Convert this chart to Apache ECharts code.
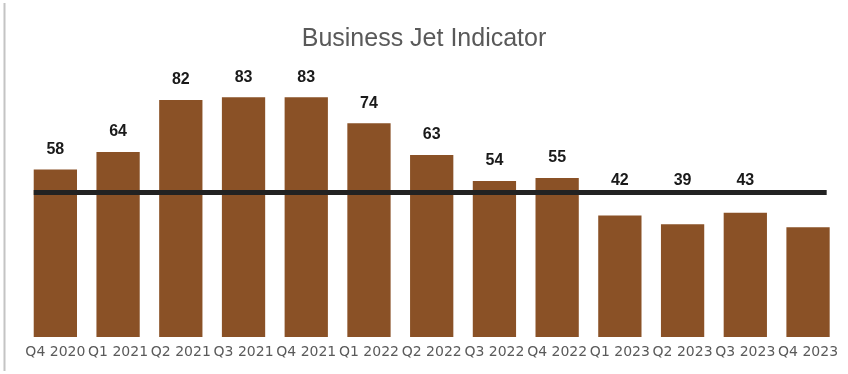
<!DOCTYPE html>
<html>
<head>
<meta charset="utf-8">
<script src="https://cdn.jsdelivr.net/npm/echarts@6/dist/echarts.min.js"></script>
<style>
html,body{margin:0;padding:0;background:#fff;}
#chart{width:848px;height:374px;}
</style>
</head>
<body>
<div id="chart"></div>
<script>
var categories = ['Q4 2020','Q1 2021','Q2 2021','Q3 2021','Q4 2021','Q1 2022','Q2 2022','Q3 2022','Q4 2022','Q1 2023','Q2 2023','Q3 2023','Q4 2023'];
var values = [58, 64, 82, 83, 83, 74, 63, 54, 55, 42, 39, 43, 38];
var dataLabels = ['58','64','82','83','83','74','63','54','55','42','39','43',''];
var threshold = 50;
var yMin = 0, yMax = 100;

var barFrac = 0.69;
var chart = echarts.init(document.getElementById('chart'));

var labelStyle = {
  show: true,
  position: 'top',
  color: '#1a1a1a',
  fontFamily: 'Liberation Sans',
  fontWeight: 'bold',
  fontSize: 16
};

var mainData = values.map(function (v, i) {
  var show = dataLabels[i] !== '' && v >= threshold;
  return { value: v, label: { show: show } };
});
var lowLabelData = values.map(function (v, i) {
  return (dataLabels[i] !== '' && v < threshold) ? threshold : '-';
});

chart.setOption({
  animation: false,
  backgroundColor: '#ffffff',
  title: {
    text: 'Business Jet Indicator',
    left: 'center',
    top: 22,
    textStyle: { color: '#595959', fontFamily: 'Liberation Sans', fontWeight: 'normal', fontSize: 25 }
  },
  graphic: [{
    type: 'line',
    shape: { x1: 4.5, y1: 3, x2: 4.5, y2: 371 },
    style: { stroke: '#c4c4c4', lineWidth: 2 },
    silent: true
  }],
  grid: { left: 24, right: 8.6, top: 48, bottom: 37 },
  xAxis: {
    type: 'category',
    data: categories,
    axisLine: { show: false },
    axisTick: { show: false },
    axisLabel: { color: '#5a5a5a', fontFamily: 'DejaVu Sans', fontSize: 14, margin: 8, interval: 0 }
  },
  yAxis: {
    type: 'value', min: yMin, max: yMax,
    show: false, splitLine: { show: false }
  },
  series: [
    {
      type: 'bar',
      data: mainData,
      barCategoryGap: '31%',
      itemStyle: { color: '#8a5126' },
      label: Object.assign({}, labelStyle, {
        distance: 12,
        formatter: function (p) { return dataLabels[p.dataIndex]; }
      }),
      z: 2
    },
    {
      type: 'bar',
      data: lowLabelData,
      barGap: '-100%',
      itemStyle: { color: 'rgba(0,0,0,0)' },
      silent: true,
      label: Object.assign({}, labelStyle, {
        distance: 4,
        formatter: function (p) { return dataLabels[p.dataIndex]; }
      }),
      z: 1
    },
    {
      type: 'custom',
      data: [[0, threshold]],
      silent: true,
      z: 5,
      renderItem: function (params, api) {
        var v = api.value(1);
        var start = api.coord([0, v]);
        var end = api.coord([categories.length - 1, v]);
        var half = api.size([1, 0])[0] * barFrac / 2;
        return {
          type: 'line',
          shape: { x1: start[0] - half, y1: start[1], x2: end[0] + half - 3, y2: end[1] },
          style: { stroke: '#222222', lineWidth: 5 }
        };
      }
    }
  ]
});
</script>
</body>
</html>
